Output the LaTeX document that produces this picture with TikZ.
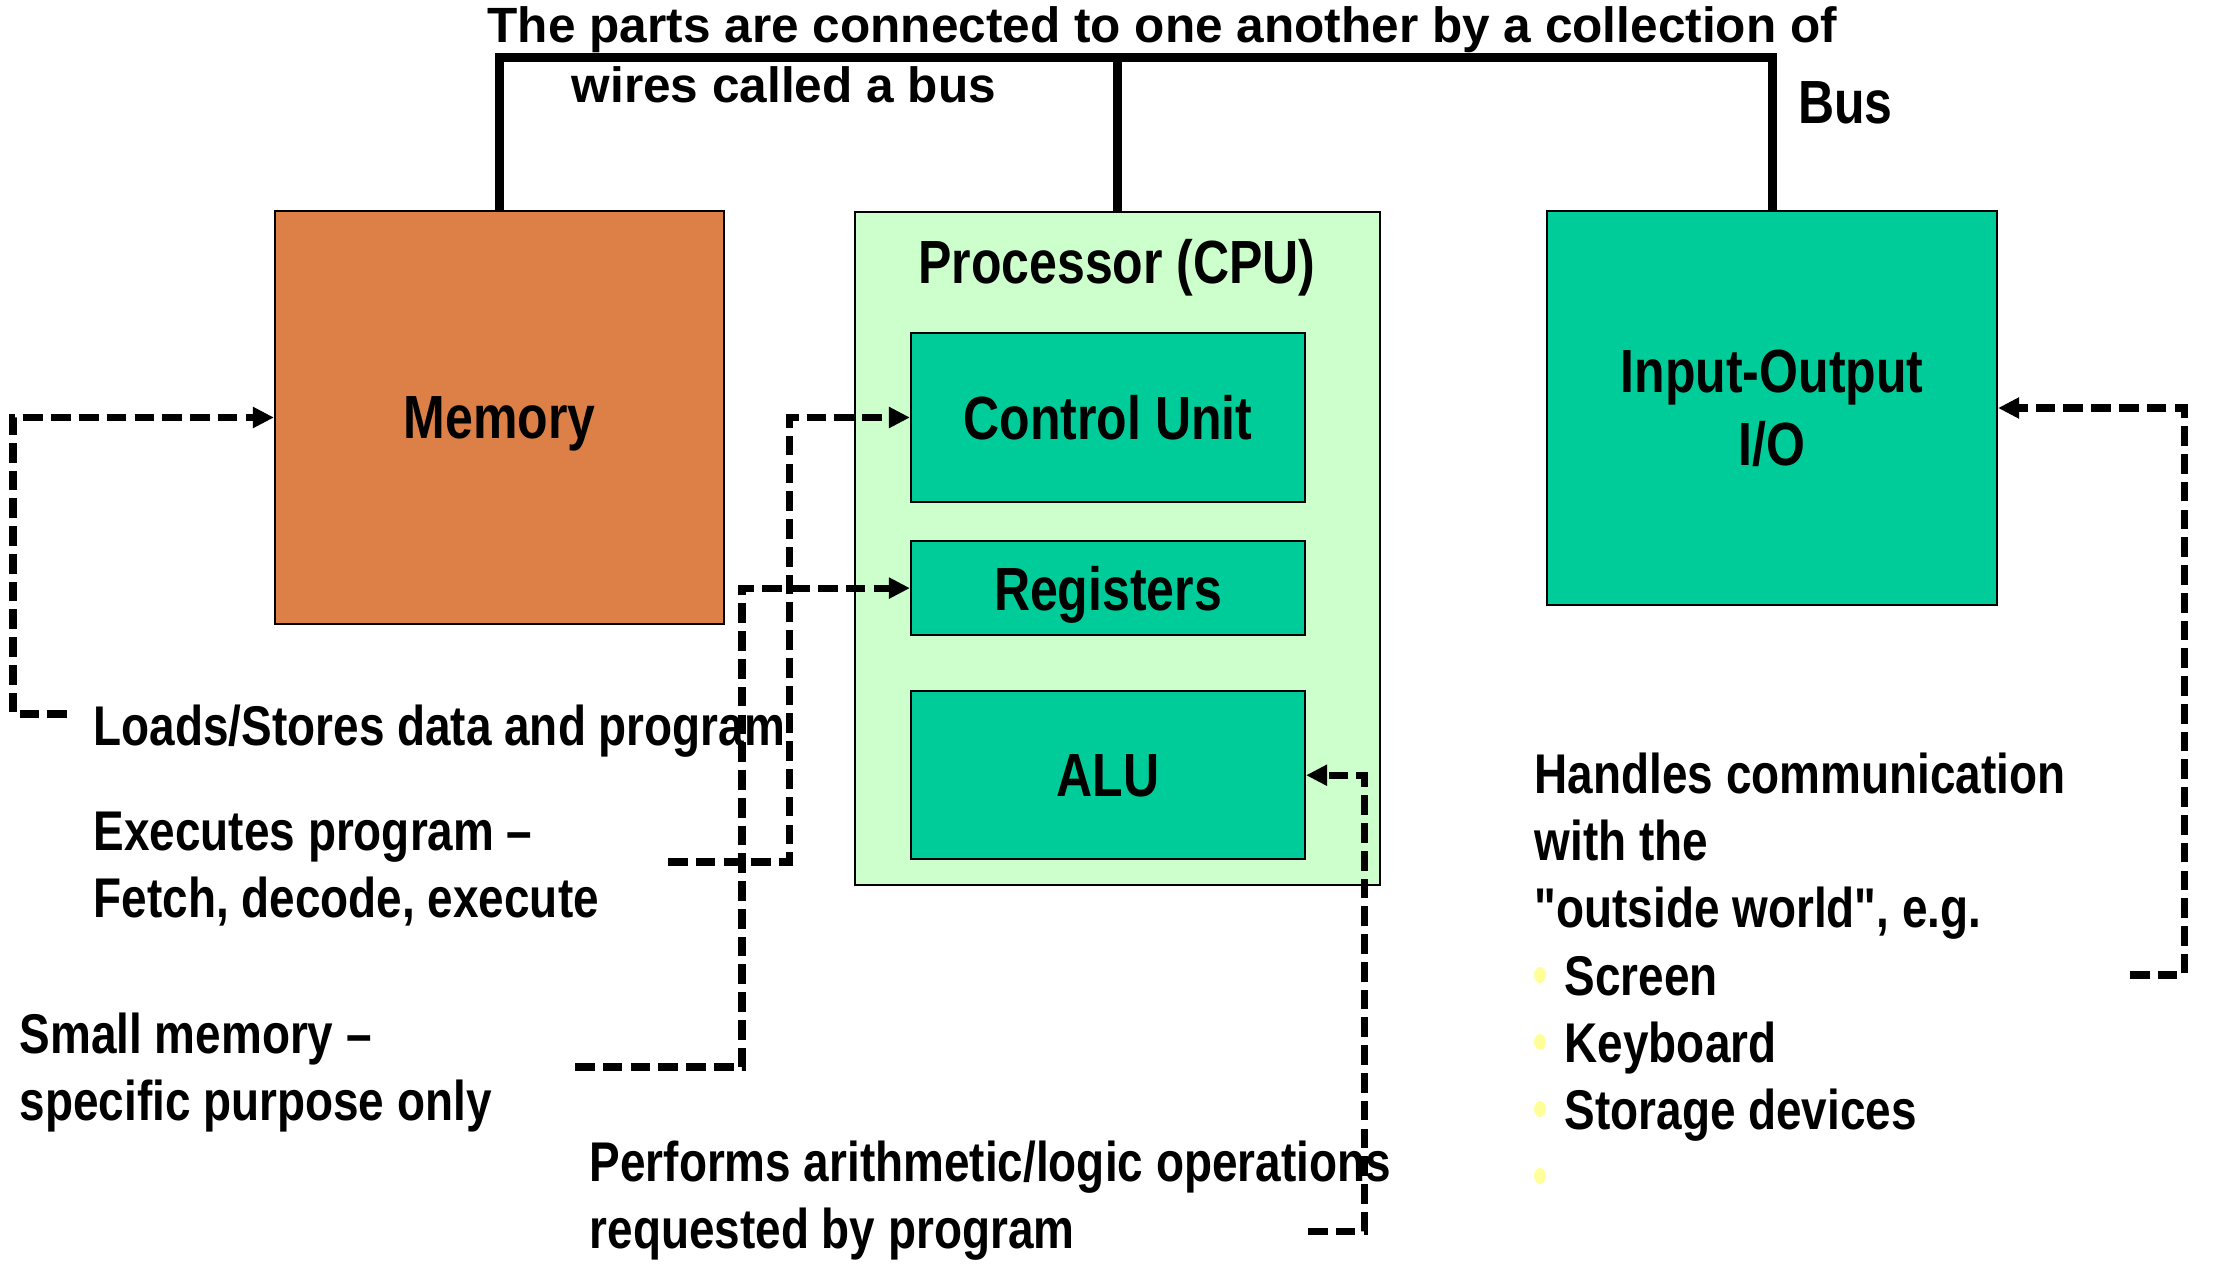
\documentclass[tikz,border=0pt]{standalone}
\usepackage{fontspec}
\setmainfont{Liberation Sans}
\newfontfamily\narrowsans{Liberation Sans}[FakeStretch=0.82]
\usetikzlibrary{positioning, arrows.meta}

\definecolor{memorange}{HTML}{DD8047}
\definecolor{cpugreen}{HTML}{CCFFCC}
\definecolor{unitgreen}{HTML}{00CC99}
\definecolor{bulletyellow}{HTML}{FFFF99}

\tikzset{
    box/.style={draw, line width=0.6pt, inner sep=0pt,
        font=\narrowsans\bfseries\fontsize{17.35}{20.8}\selectfont},
    unit/.style={box, text depth=0pt},
    note/.style={anchor=base west, inner sep=0pt, align=left,
        font=\narrowsans\bfseries\fontsize{15.93}{19.06}\selectfont},
    headline/.style={anchor=base west, inner sep=0pt,
        font=\bfseries\fontsize{14.1}{16.9}\selectfont},
    bus/.style={line width=2.56pt},
    link/.style={line width=2pt, dash pattern=on 5.6pt off 2.3pt,
        -{Triangle[length=6pt, width=5.7pt]}}
}

\begin{document}
\begin{tikzpicture}
            % Fixed page size
            \path[use as bounding box] (0,0) rectangle (22.15,-12.82);

            % Main parts
            \node[unit, fill=memorange, minimum width=4.49cm, minimum height=4.13cm] (mem) at (4.995,-4.175) {Memory};
            \node[box, fill=cpugreen, minimum width=5.25cm, minimum height=6.73cm] (cpu) at (11.175,-5.485) {};
            \node[box, draw=none, anchor=base] (cputitle) at (11.17,-2.84) {Processor (CPU)};
            \node[unit, fill=unitgreen, minimum width=3.94cm, minimum height=1.69cm] (cu) at (11.08,-4.175) {Control Unit};
            \node[unit, fill=unitgreen, minimum width=3.94cm, minimum height=0.94cm, below=0.37cm of cu] (reg) {Registers};
            \node[unit, fill=unitgreen, minimum width=3.94cm, minimum height=1.68cm, below=0.54cm of reg] (alu) {ALU};
            \node[box, fill=unitgreen, align=center, minimum width=4.5cm, minimum height=3.94cm] (io) at (17.72,-4.08) {Input-Output\\I/O};

            % Bus
            \coordinate (busline) at (0,-0.575);
            \draw[bus] (mem.north) |- (busline -| io.north) -- (io.north);
            \draw[bus] (cpu.north) -- (cpu.north |- busline);
            \node[headline] (head) at (4.87,-0.43) {The parts are connected to one another by a collection of};
            \node[headline] (head2) at (5.71,-1.03) {wires called a bus};
            \node[box, draw=none, anchor=base west] (buslabel) at (17.97,-1.24) {Bus};

            % Notes (base = last line)
            \node[note] (memnote) at (0.93,-7.45) {Loads/Stores data and program};
            \node[note] (cunote) at (0.93,-9.17) {Executes program –\\Fetch, decode, execute};
            \node[note] (regnote) at (0.19,-11.20) {Small memory –\\specific purpose only};
            \node[note] (alunote) at (5.89,-12.48) {Performs arithmetic/logic operations\\requested by program};
            \node[note] (ionote) at (15.34,-9.27) {Handles communication\\with the\\"outside world", e.g.};
            \foreach \k in {0,...,3} {
                \fill[bulletyellow] (15.40,{-9.75-0.67*\k}) ellipse (0.06 and 0.08);
            }
            \foreach \t [count=\k from 0] in {Screen, Keyboard, Storage devices} {
                \node[note] (item\k) at (15.64,{-9.95-0.67*\k}) {\t};
            }

            % Dashed links
            \coordinate (cload) at (0.67,-7.14);
            \coordinate (cexec) at (6.68,-8.62);
            \coordinate (csmall) at (5.75,-10.67);
            \coordinate (calu) at (13.08,-12.31);
            \coordinate (cio) at (21.30,-9.75);
            \draw[link] (cload) -- ++(-0.54,0) |- (mem.west);
            \draw[link] (cexec) -- ++(1.21,0) |- (cu.west);
            \draw[link] (csmall) -- ++(1.67,0) |- (reg.west);
            \draw[link] (calu) -- ++(0.56,0) |- (alu.east);
            \draw[link] (cio) -- ++(0.54,0) |- (io.east);
        \end{tikzpicture}
\end{document}
